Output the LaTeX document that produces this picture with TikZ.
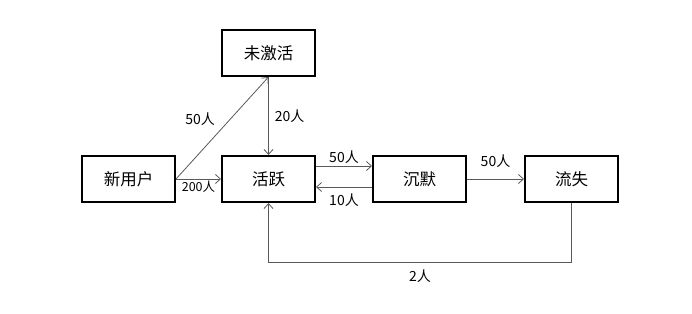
\documentclass[tikz,border=0pt]{standalone}
\usepackage{fontspec}
\setmainfont{Noto Sans CJK SC}
\usepackage{xcolor}
\usetikzlibrary{positioning, arrows.meta}

\begin{document}
\begin{tikzpicture}[
    x=1pt, y=1pt,
    node distance=45pt and 45pt,
    state/.style={rectangle, draw=black, line width=1.6pt, minimum width=93.4pt, minimum height=46.4pt, align=center, font=\fontsize{16.5}{19}\selectfont},
    arr/.style={-{Straight Barb[length=5pt, width=9pt]}, line width=0.8pt, draw=black!65},
    lbl/.style={font=\fontsize{14}{16}\selectfont, inner sep=2pt},
]
\useasboundingbox (0,0) rectangle (692,-313);
\node[state] (new) at (128.5,-179) {新用户};
\node[state, right=45pt of new] (active) {活跃};
\node[state, above=78pt of active] (inactive) {未激活};
\node[state, right=56pt of active] (silent) {沉默};
\node[state, right=57pt of silent] (lost) {流失};
% flows
\draw[arr] (new.east) -- node[midway, below, lbl, font=\fontsize{12.5}{14}\selectfont] {200人} (active.west);
\draw[arr] (new.east) -- node[midway, above left, lbl, xshift=-5pt] {50人} (inactive.south);
\draw[arr] (inactive.south) -- node[midway, right, lbl, xshift=4pt] {20人} (active.north);
\draw[arr] ([yshift=13pt]active.east) -- node[midway, above, lbl] {50人} ([yshift=13pt]silent.west);
\draw[arr] ([yshift=-8pt]silent.west) -- node[midway, below, lbl, yshift=-4pt] {10人} ([yshift=-8pt]active.east);
\draw[arr] (silent.east) -- node[midway, above, lbl, yshift=9pt] {50人} (lost.west);
\draw[arr] (lost.south) -- ++(0,-59) -| node[pos=0.25, below, lbl, yshift=-5pt] {2人} (active.south);
\end{tikzpicture}
\end{document}
